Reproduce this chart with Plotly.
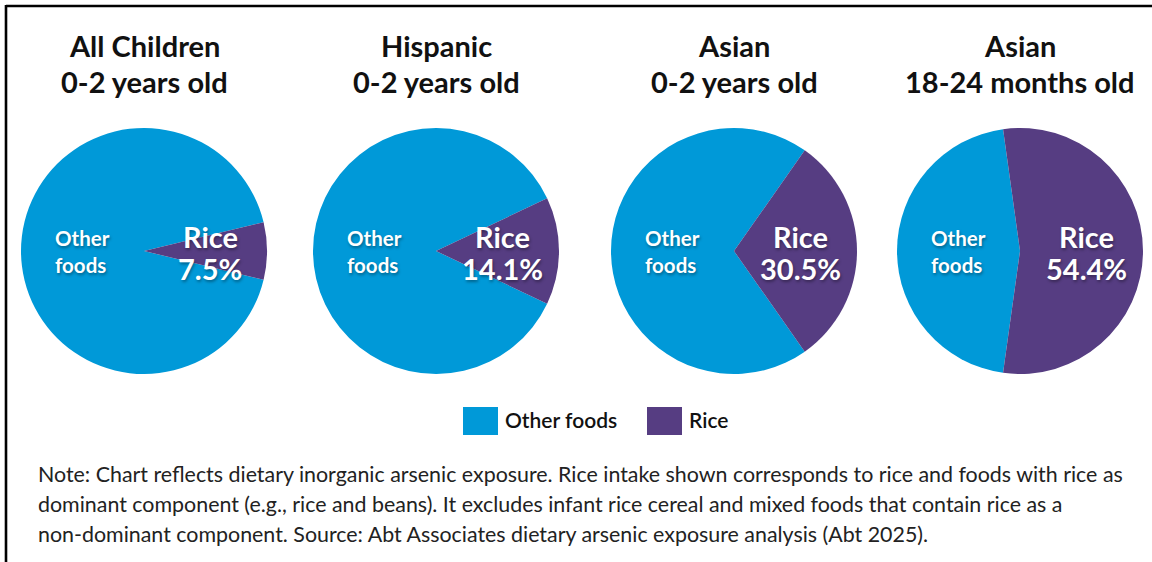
import plotly.graph_objects as go

# ---- data ----
group_names = ["All Children", "Hispanic", "Asian", "Asian"]
group_ages = ["0-2 years old", "0-2 years old", "0-2 years old", "18-24 months old"]
categories = ["Other foods", "Rice"]
rice_pct = [7.5, 14.1, 30.5, 54.4]
other_pct = [round(100 - r, 1) for r in rice_pct]
note_lines = [
    "Note: Chart reflects dietary inorganic arsenic exposure. Rice intake shown corresponds to rice and foods with rice as",
    "dominant component (e.g., rice and beans). It excludes infant rice cereal and mixed foods that contain rice as a",
    "non-dominant component. Source: Abt Associates dietary arsenic exposure analysis (Abt 2025).",
]

W, H = 1152, 562
BLUE = "#0099d8"
PURPLE = "#563d82"
centers_x = [144, 436, 734, 1020]
center_y = 251
R = 123
FAM = "Lato, Open Sans, sans-serif"
DY = -2  # text baseline correction

fig = go.Figure()
annotations = []
shapes = []
title_font = dict(family=FAM, size=29, color="#111111", weight="bold")
shadow = "1px 2px 3px rgba(0,0,0,0.35)"
lab_font_small = dict(family=FAM, size=20.5, color="white", weight="bold", shadow=shadow)
lab_font_big = dict(family=FAM, size=29, color="white", weight="bold", shadow=shadow)


def ann(text, x, y, font, xanchor="center", align="center"):
    return dict(text=text, x=x / W, y=1 - (y + DY) / H, xref="paper", yref="paper",
                xanchor=xanchor, yanchor="middle", showarrow=False, font=font, align=align)


for i, (gn, ga, r, o) in enumerate(zip(group_names, group_ages, rice_pct, other_pct)):
    cx = centers_x[i]
    rice_deg = r * 3.6
    fig.add_trace(go.Pie(
        labels=categories, values=[o, r], sort=False, direction="clockwise",
        rotation=90 + rice_deg / 2,
        marker=dict(colors=[BLUE, PURPLE], line=dict(width=0)),
        textinfo="none", hoverinfo="label+percent", showlegend=False,
        domain=dict(x=[(cx - R) / W, (cx + R) / W],
                    y=[1 - (center_y + R) / H, 1 - (center_y - R) / H]),
    ))
    annotations.append(ann(gn, cx, 47, title_font))
    annotations.append(ann(ga, cx, 83, title_font))
    annotations.append(ann(categories[0].replace(" ", "<br>"), cx - 91, 253, lab_font_small,
                           xanchor="left", align="left"))
    annotations.append(ann(categories[1], cx + 66, 238, lab_font_big))
    annotations.append(ann(f"{r}%", cx + 66, 270, lab_font_big))

# legend (manual)
leg_items = [(categories[0], BLUE, 463), (categories[1], PURPLE, 647)]
for name, col, x0 in leg_items:
    shapes.append(dict(type="rect", xref="paper", yref="paper",
                       x0=x0 / W, x1=(x0 + 35) / W, y0=1 - 435 / H, y1=1 - 407 / H,
                       fillcolor=col, line=dict(width=0)))
    annotations.append(ann(name, x0 + 40, 421,
                           dict(family=FAM, size=21, color="#111111", weight=600),
                           xanchor="left"))

for j, line in enumerate(note_lines):
    annotations.append(ann(line, 36, 476 + 30 * j,
                           dict(family=FAM, size=21.4, color="#222222"),
                           xanchor="left", align="left"))

# frame lines
shapes.append(dict(type="line", xref="paper", yref="paper", x0=6 / W, x1=1, y0=1 - 6 / H, y1=1 - 6 / H,
                   line=dict(color="black", width=2.6)))
shapes.append(dict(type="line", xref="paper", yref="paper", x0=6 / W, x1=6 / W, y0=0, y1=1 - 5 / H,
                   line=dict(color="black", width=2.6)))

fig.update_layout(width=W, height=H, margin=dict(l=0, r=0, t=0, b=0),
                  paper_bgcolor="white", plot_bgcolor="white",
                  annotations=annotations, shapes=shapes, showlegend=False)
fig.write_html("out.html")
